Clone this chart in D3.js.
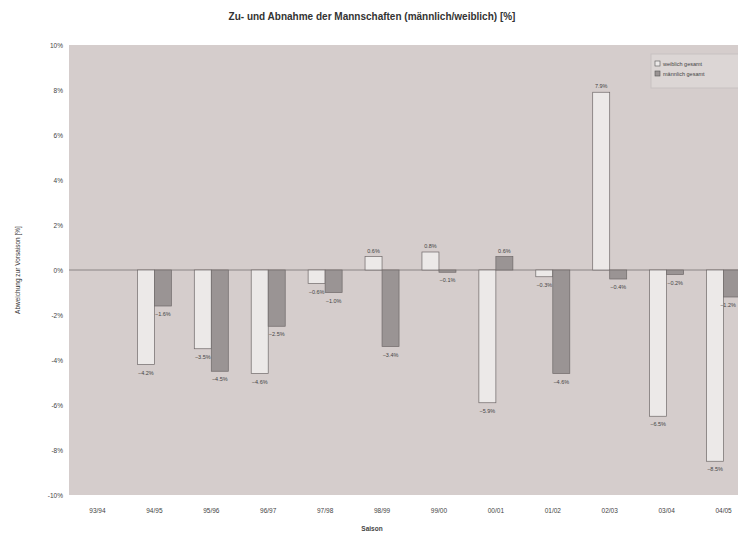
<!DOCTYPE html>
<html>
<head>
<meta charset="utf-8">
<script src="https://cdn.jsdelivr.net/npm/d3@7"></script>
<style>
  body { margin: 0; background: #fff; }
  svg { display: block; font-family: "Liberation Sans", Arial, sans-serif; }
</style>
</head>
<body>
<svg id="chart" width="738" height="535"></svg>
<script>
// Saisons and percentage change vs. previous season
const seasons = ["93/94", "94/95", "95/96", "96/97", "97/98", "98/99", "99/00", "00/01", "01/02", "02/03", "03/04", "04/05"];
const weiblich = [null, -4.2, -3.5, -4.6, -0.6, 0.6, 0.8, -5.9, -0.3, 7.9, -6.5, -8.5];
const maennlich = [null, -1.6, -4.5, -2.5, -1.0, -3.4, -0.1, 0.6, -4.6, -0.4, -0.2, -1.2];
const seriesNames = ["weiblich gesamt", "männlich gesamt"];
const yTicks = [10, 8, 6, 4, 2, 0, -2, -4, -6, -8, -10];

(function() {
  const svg = d3.select("#chart");
  const margin = { left: 69, top: 45, bottom: 40 };
  const plotW = 683;
  const plotH = 450;
  const width = 738;

  const x = d3.scaleBand().domain(seasons).range([margin.left, margin.left + plotW]);
  const y = d3.scaleLinear().domain([-10, 10]).range([margin.top + plotH, margin.top]);
  const barW = 17;

  const fills = ["#ece9e8", "#9a9494"];
  const data = seriesNames.map((name, s) => ({
    name: name,
    values: seasons.map((season, i) => ({ season, v: s === 0 ? weiblich[i] : maennlich[i], s }))
  }));

  svg.append("text")
    .attr("x", 372)
    .attr("y", 20)
    .attr("text-anchor", "middle")
    .style("font-size", "10px")
    .style("font-weight", "bold")
    .style("fill", "#333")
    .text("Zu- und Abnahme der Mannschaften (männlich/weiblich) [%]");

  // plot background
  svg.append("rect")
    .attr("x", margin.left)
    .attr("y", margin.top)
    .attr("width", plotW)
    .attr("height", plotH)
    .attr("fill", "#d5cdcc");

  // axes
  const yAxis = svg.append("g")
    .attr("transform", `translate(${margin.left},0)`)
    .call(d3.axisLeft(y).tickValues(yTicks).tickSize(0).tickPadding(6).tickFormat(d => d + "%"));
  yAxis.select(".domain").remove();
  yAxis.selectAll("text").style("font-size", "6.5px").attr("fill", "#444");

  const xAxis = svg.append("g")
    .attr("transform", `translate(0,${margin.top + plotH})`)
    .call(d3.axisBottom(x).tickSize(0).tickPadding(13));
  xAxis.select(".domain").remove();
  xAxis.selectAll("text").style("font-size", "6.5px").attr("fill", "#444");

  // zero line
  svg.append("line")
    .attr("x1", margin.left)
    .attr("x2", margin.left + plotW)
    .attr("y1", y(0))
    .attr("y2", y(0))
    .attr("stroke", "#8a8484")
    .attr("stroke-width", 1);

  // bars
  const groups = svg.selectAll(".series")
    .data(data)
    .enter()
    .append("g")
    .attr("class", "series");

  const bx = d => x(d.season) + x.bandwidth() / 2 + (d.s === 0 ? -barW : 0);

  groups.selectAll("rect")
    .data(d => d.values.filter(v => v.v !== null))
    .enter()
    .append("rect")
    .attr("x", bx)
    .attr("y", d => y(Math.max(0, d.v)))
    .attr("width", barW)
    .attr("height", d => Math.abs(y(d.v) - y(0)))
    .attr("fill", d => fills[d.s])
    .attr("stroke", "#6e6868")
    .attr("stroke-width", 0.7);

  groups.selectAll("text")
    .data(d => d.values.filter(v => v.v !== null))
    .enter()
    .append("text")
    .attr("x", d => Math.min(bx(d) + barW / 2, width - 10))
    .attr("y", d => d.v >= 0 ? y(d.v) - 4 : y(d.v) + 10)
    .attr("text-anchor", "middle")
    .style("font-size", "5.5px")
    .attr("fill", "#444")
    .text(d => d3.format(".1f")(d.v) + "%");

  // legend
  const legend = svg.append("g").attr("transform", "translate(651,54)");
  legend.append("rect")
    .attr("width", 90)
    .attr("height", 34)
    .attr("fill", "#dcd6d5")
    .attr("stroke", "#c8c2c1");
  seriesNames.forEach((name, i) => {
    legend.append("rect")
      .attr("x", 4)
      .attr("y", 7 + i * 10)
      .attr("width", 5)
      .attr("height", 5)
      .attr("fill", fills[i])
      .attr("stroke", "#555")
      .attr("stroke-width", 0.6);
    legend.append("text")
      .attr("x", 12)
      .attr("y", 12 + i * 10)
      .style("font-size", "5.5px")
      .attr("fill", "#444")
      .text(name);
  });

  // axis titles
  svg.append("text")
    .attr("x", 372)
    .attr("y", 531)
    .attr("text-anchor", "middle")
    .style("font-size", "6.5px")
    .style("font-weight", "bold")
    .attr("fill", "#444")
    .text("Saison");

  svg.append("text")
    .attr("transform", `translate(20,${y(0)}) rotate(-90)`)
    .attr("text-anchor", "middle")
    .style("font-size", "6.5px")
    .attr("fill", "#333")
    .text("Abweichung zur Vorsaison [%]");
})();
</script>
</body>
</html>
